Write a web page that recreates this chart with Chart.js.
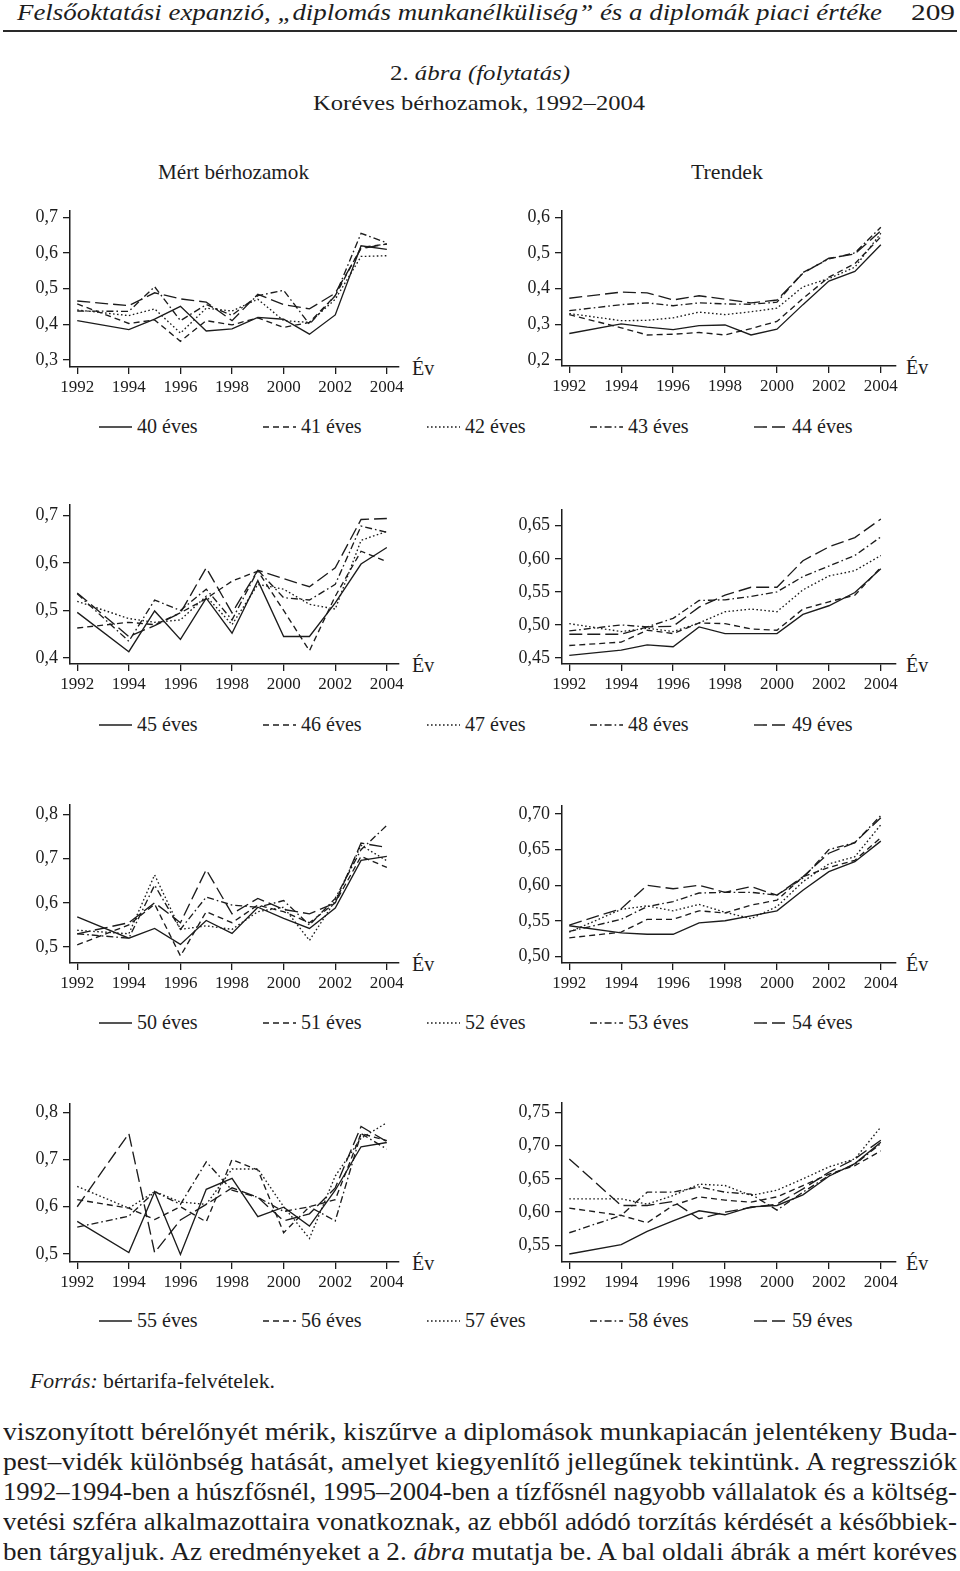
<!DOCTYPE html>
<html lang="hu">
<head>
<meta charset="utf-8">
<script src="https://cdn.jsdelivr.net/npm/chart.js@4.4.1/dist/chart.umd.min.js"></script>
<style>
  html, body { margin: 0; padding: 0; background: #fff; }
  body { width: 960px; height: 1571px; position: relative; overflow: hidden;
         font-family: "Liberation Serif", "Times New Roman", serif; color: #1d1d1d; }
  .t { position: absolute; white-space: nowrap; line-height: 1; transform-origin: 0 0; }
  .rule { position: absolute; left: 3px; top: 30px; width: 954px; height: 1.5px; background: #2a2a2a; }
  canvas { position: absolute; }
  .leg { position: absolute; height: 10px; }
</style>
</head>
<body>
<div class="t" style="left:17px;top:0px;font-size:24px;font-style:italic" data-w="865">Felsőoktatási expanzió, „diplomás munkanélküliség” és a diplomák piaci értéke</div>
<div class="t" style="left:911px;top:0px;font-size:24px" data-w="44">209</div>
<div class="rule"></div>

<div class="t" style="left:390px;top:62px;font-size:22px" data-w="180">2. <i>ábra (folytatás)</i></div>
<div class="t" style="left:313px;top:92px;font-size:22px" data-w="332">Koréves bérhozamok, 1992–2004</div>
<div class="t" style="left:158px;top:162px;font-size:21px" data-w="151">Mért bérhozamok</div>
<div class="t" style="left:691px;top:162px;font-size:21px" data-w="72">Trendek</div>

<div class="t" style="left:30px;top:1371px;font-size:20px" data-w="245"><i>Forrás:</i> bértarifa-felvételek.</div>
<div class="t" style="left:3px;top:1419px;font-size:25px" data-w="954">viszonyított bérelőnyét mérik, kiszűrve a diplomások munkapiacán jelentékeny Buda-</div>
<div class="t" style="left:3px;top:1449px;font-size:25px" data-w="954">pest–vidék különbség hatását, amelyet kiegyenlítő jellegűnek tekintünk. A regressziók</div>
<div class="t" style="left:3px;top:1479px;font-size:25px" data-w="954">1992–1994-ben a húszfősnél, 1995–2004-ben a tízfősnél nagyobb vállalatok és a költség-</div>
<div class="t" style="left:3px;top:1509px;font-size:25px" data-w="954">vetési szféra alkalmazottaira vonatkoznak, az ebből adódó torzítás kérdését a későbbiek-</div>
<div class="t" style="left:3px;top:1539px;font-size:25px" data-w="954">ben tárgyaljuk. Az eredményeket a 2. <i>ábra</i> mutatja be. A bal oldali ábrák a mért koréves</div>

<script>
/* ------------ data ------------ */
const years  = [1992, 1994, 1995, 1996, 1997, 1998, 1999, 2000, 2001, 2002, 2003, 2004];
const xTicks = [1992, 1994, 1996, 1998, 2000, 2002, 2004];

// measured returns (left column)
const m40 = [0.410,0.385,0.414,0.450,0.381,0.387,0.419,0.414,0.372,0.426,0.620,0.610];
const m41 = [0.457,0.402,0.412,0.352,0.410,0.398,0.418,0.391,0.405,0.480,0.615,0.625];
const m42 = [0.440,0.424,0.443,0.375,0.445,0.437,0.470,0.410,0.405,0.470,0.590,0.592];
const m43 = [0.437,0.436,0.505,0.410,0.455,0.425,0.480,0.495,0.400,0.480,0.655,0.628];
const m44 = [0.465,0.452,0.488,0.471,0.462,0.410,0.484,0.455,0.443,0.487,0.612,0.625];

const m45 = [0.496,0.413,0.499,0.439,0.526,0.452,0.563,0.445,0.445,0.516,0.598,0.633];
const m46 = [0.463,0.475,0.470,0.495,0.525,0.562,0.583,0.500,0.415,0.530,0.625,0.603];
const m47 = [0.519,0.483,0.475,0.480,0.530,0.470,0.555,0.545,0.513,0.503,0.648,0.667];
const m48 = [0.535,0.435,0.522,0.500,0.545,0.480,0.585,0.527,0.522,0.555,0.678,0.665];
const m49 = [0.537,0.445,0.468,0.495,0.590,0.495,0.585,0.567,0.550,0.590,0.692,0.694];

const m50 = [0.568,0.520,0.542,0.506,0.560,0.531,0.590,0.565,0.542,0.588,0.696,0.705];
const m51 = [0.505,0.550,0.597,0.480,0.580,0.555,0.595,0.580,0.555,0.600,0.705,0.680];
const m52 = [0.538,0.530,0.663,0.540,0.548,0.540,0.580,0.590,0.515,0.605,0.730,0.695];
const m53 = [0.530,0.520,0.640,0.540,0.613,0.595,0.590,0.605,0.550,0.610,0.720,0.775];
const m54 = [0.530,0.555,0.600,0.555,0.675,0.575,0.610,0.585,0.575,0.600,0.735,0.725];

const m55 = [0.569,0.503,0.631,0.499,0.637,0.660,0.579,0.599,0.559,0.635,0.727,0.736];
const m56 = [0.615,0.597,0.573,0.600,0.568,0.700,0.678,0.545,0.600,0.615,0.755,0.740];
const m57 = [0.643,0.597,0.632,0.610,0.605,0.680,0.680,0.600,0.533,0.665,0.745,0.778];
const m58 = [0.557,0.580,0.632,0.605,0.695,0.635,0.620,0.590,0.600,0.570,0.755,0.722];
const m59 = [0.600,0.755,0.503,0.572,0.605,0.640,0.620,0.570,0.585,0.640,0.770,0.738];

// trends (right column)
const t40 = [0.274,0.301,0.292,0.285,0.296,0.298,0.270,0.286,0.355,0.421,0.448,0.523];
const t41 = [0.327,0.290,0.270,0.272,0.277,0.270,0.288,0.308,0.372,0.432,0.470,0.545];
const t42 = [0.330,0.310,0.311,0.318,0.334,0.327,0.335,0.345,0.405,0.428,0.460,0.555];
const t43 = [0.338,0.355,0.360,0.352,0.360,0.357,0.356,0.362,0.445,0.483,0.500,0.572];
const t44 = [0.373,0.390,0.388,0.368,0.380,0.370,0.360,0.368,0.443,0.485,0.497,0.562];

const t45 = [0.454,0.462,0.470,0.467,0.497,0.487,0.487,0.487,0.516,0.529,0.549,0.585];
const t46 = [0.469,0.474,0.492,0.487,0.503,0.502,0.494,0.492,0.524,0.535,0.545,0.587];
const t47 = [0.502,0.490,0.495,0.490,0.503,0.520,0.524,0.520,0.553,0.574,0.582,0.605];
const t48 = [0.491,0.500,0.497,0.510,0.537,0.538,0.543,0.550,0.573,0.589,0.605,0.633];
const t49 = [0.486,0.486,0.497,0.498,0.527,0.545,0.557,0.557,0.597,0.618,0.632,0.660];

const t50 = [0.543,0.533,0.531,0.531,0.547,0.550,0.557,0.564,0.593,0.619,0.633,0.662];
const t51 = [0.526,0.534,0.552,0.552,0.564,0.561,0.572,0.579,0.612,0.625,0.635,0.667];
const t52 = [0.534,0.566,0.571,0.564,0.573,0.562,0.553,0.570,0.605,0.630,0.640,0.685];
const t53 = [0.535,0.552,0.570,0.577,0.589,0.590,0.590,0.586,0.610,0.650,0.660,0.698];
const t54 = [0.544,0.567,0.600,0.595,0.600,0.590,0.598,0.586,0.612,0.645,0.660,0.695];

const t55 = [0.537,0.551,0.571,0.587,0.602,0.596,0.608,0.610,0.626,0.654,0.673,0.705];
const t56 = [0.606,0.595,0.584,0.610,0.623,0.618,0.615,0.623,0.640,0.657,0.670,0.692];
const t57 = [0.620,0.620,0.612,0.625,0.642,0.640,0.625,0.633,0.650,0.668,0.680,0.728];
const t58 = [0.569,0.595,0.630,0.630,0.638,0.630,0.627,0.603,0.630,0.655,0.672,0.703];
const t59 = [0.680,0.610,0.610,0.616,0.590,0.600,0.607,0.612,0.635,0.660,0.680,0.708];

const ages1 = [40, 41, 42, 43, 44];
const ages2 = [45, 46, 47, 48, 49];
const ages3 = [50, 51, 52, 53, 54];
const ages4 = [55, 56, 57, 58, 59];

const yTicksA = [0.3, 0.4, 0.5, 0.6, 0.7];
const yTicksB = [0.2, 0.3, 0.4, 0.5, 0.6];
const yTicksC = [0.4, 0.5, 0.6, 0.7];
const yTicksD = [0.45, 0.50, 0.55, 0.60, 0.65];
const yTicksE = [0.5, 0.6, 0.7, 0.8];
const yTicksF = [0.50, 0.55, 0.60, 0.65, 0.70];
const yTicksG = [0.5, 0.6, 0.7, 0.8];
const yTicksH = [0.55, 0.60, 0.65, 0.70, 0.75];

/* ------------ style + layout ------------ */
const INK = '#1c1c1c';
// solid, short dash, dotted, dash-dot, long dash
const DASHES = [[], [6, 4], [1.6, 2.4], [7, 3, 1.6, 3], [13, 5]];
const Y_AXIS_W = 62, X_AXIS_H = 34, PAD_TOP = 8, PAD_RIGHT = 4;

const panels = [
  { series: [m40,m41,m42,m43,m44], ticks: yTicksA, dec: 1, yMin: 0.280, yMax: 0.718, axisX: 70,  top: 203, right: 403, axisY: 367, xMax: 2004.47 },
  { series: [t40,t41,t42,t43,t44], ticks: yTicksB, dec: 1, yMin: 0.183, yMax: 0.618, axisX: 562, top: 203, right: 897, axisY: 366, xMax: 2004.56 },
  { series: [m45,m46,m47,m48,m49], ticks: yTicksC, dec: 1, yMin: 0.387, yMax: 0.723, axisX: 70,  top: 497, right: 403, axisY: 664, xMax: 2004.47 },
  { series: [t45,t46,t47,t48,t49], ticks: yTicksD, dec: 2, yMin: 0.441, yMax: 0.674, axisX: 562, top: 502, right: 897, axisY: 664, xMax: 2004.56 },
  { series: [m50,m51,m52,m53,m54], ticks: yTicksE, dec: 1, yMin: 0.464, yMax: 0.8215, axisX: 70, top: 797, right: 403, axisY: 963, xMax: 2004.47 },
  { series: [t50,t51,t52,t53,t54], ticks: yTicksF, dec: 2, yMin: 0.4906, yMax: 0.7117, axisX: 562, top: 798, right: 897, axisY: 963, xMax: 2004.56 },
  { series: [m55,m56,m57,m58,m59], ticks: yTicksG, dec: 1, yMin: 0.483, yMax: 0.818, axisX: 70,  top: 1096, right: 403, axisY: 1262, xMax: 2004.47 },
  { series: [t55,t56,t57,t58,t59], ticks: yTicksH, dec: 2, yMin: 0.525, yMax: 0.7644, axisX: 562, top: 1095, right: 897, axisY: 1262, xMax: 2004.56 },
];
const legendRows = [
  { ages: ages1, y: 427 }, { ages: ages2, y: 725 }, { ages: ages3, y: 1023 }, { ages: ages4, y: 1321 },
];
const LEG_X = [99, 263, 427, 590, 754];

const fmt = (v, d) => v.toFixed(d).replace('.', ',');

/* ------------ panels ------------ */
function makePanel(p) {
  const left = p.axisX - Y_AXIS_W, top = p.top - PAD_TOP;
  const w = p.right - left + PAD_RIGHT, h = p.axisY - top + X_AXIS_H;
  const cv = document.createElement('canvas');
  cv.width = w; cv.height = h;
  cv.style.left = left + 'px'; cv.style.top = top + 'px';
  cv.style.width = w + 'px'; cv.style.height = h + 'px';
  document.body.appendChild(cv);

  const family = '"Liberation Serif", serif';
  new Chart(cv, {
    type: 'line',
    data: {
      datasets: p.series.map((vals, i) => ({
        data: years.map((y, k) => ({ x: y, y: vals[k] })),
        borderColor: INK, borderWidth: 1.35, borderDash: DASHES[i],
        pointRadius: 0, tension: 0, fill: false
      }))
    },
    options: {
      responsive: false, animation: false, events: [],
      layout: { padding: { top: PAD_TOP, right: PAD_RIGHT, left: 0, bottom: 0 } },
      plugins: { legend: { display: false }, tooltip: { enabled: false } },
      scales: {
        x: {
          type: 'linear', min: 1991.72, max: p.xMax,
          afterBuildTicks: s => { s.ticks = xTicks.map(v => ({ value: v })); },
          afterFit: s => { s.height = X_AXIS_H; },
          grid: { drawOnChartArea: false, drawTicks: true, tickLength: 7, color: INK, lineWidth: 1.3 },
          border: { display: true, color: INK, width: 1.5 },
          ticks: { color: INK, font: { family, size: 17 }, padding: 3, maxRotation: 0, autoSkip: false,
                   callback: v => String(v) }
        },
        y: {
          type: 'linear', min: p.yMin, max: p.yMax,
          afterBuildTicks: s => { s.ticks = p.ticks.map(v => ({ value: v })); },
          afterFit: s => { s.width = Y_AXIS_W; },
          grid: { drawOnChartArea: false, drawTicks: true, tickLength: 7, color: INK, lineWidth: 1.3 },
          border: { display: true, color: INK, width: 1.5 },
          ticks: { color: INK, font: { family, size: 18 }, padding: 5, callback: v => fmt(v, p.dec) }
        }
      }
    }
  });

  const ev = document.createElement('div');
  ev.className = 't';
  ev.style.cssText = `left:${p.right + 9}px;top:${p.axisY - 9}px;font-size:20px`;
  ev.textContent = 'Év';
  document.body.appendChild(ev);
}

/* ------------ legends ------------ */
function makeLegend(row) {
  row.ages.forEach((a, i) => {
    const x = LEG_X[i];
    const svg = document.createElementNS('http://www.w3.org/2000/svg', 'svg');
    svg.setAttribute('width', 34); svg.setAttribute('height', 10);
    svg.setAttribute('class', 'leg');
    svg.style.left = x + 'px'; svg.style.top = (row.y - 5) + 'px';
    const ln = document.createElementNS('http://www.w3.org/2000/svg', 'line');
    ln.setAttribute('x1', 0); ln.setAttribute('x2', 33);
    ln.setAttribute('y1', 5); ln.setAttribute('y2', 5);
    ln.setAttribute('stroke', INK); ln.setAttribute('stroke-width', 1.4);
    if (DASHES[i].length) ln.setAttribute('stroke-dasharray', DASHES[i].join(' '));
    svg.appendChild(ln);
    document.body.appendChild(svg);

    const tx = document.createElement('div');
    tx.className = 't';
    tx.style.cssText = `left:${x + 38}px;top:${row.y - 11}px;font-size:20px`;
    tx.textContent = `${a} éves`;
    document.body.appendChild(tx);
  });
}

/* ------------ text fitting ------------ */
function fitTexts() {
  document.querySelectorAll('[data-w]').forEach(el => {
    const w = el.getBoundingClientRect().width;
    if (w > 0) el.style.transform = `scaleX(${(+el.dataset.w / w).toFixed(4)})`;
  });
}

panels.forEach(makePanel);
legendRows.forEach(makeLegend);
fitTexts();
</script>
</body>
</html>
